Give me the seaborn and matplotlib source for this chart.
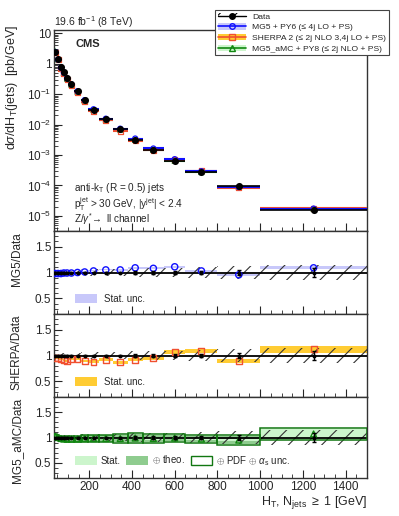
import numpy as np
import matplotlib
matplotlib.use('Agg')
import matplotlib.pyplot as plt
import seaborn as sns
from matplotlib.patches import Patch
from matplotlib.lines import Line2D
from matplotlib.ticker import MultipleLocator, FixedLocator, NullFormatter, FuncFormatter

ht_edges = [35, 48, 60, 75, 87, 105, 128, 162, 195, 245, 310, 380, 450, 550, 650, 800, 1000, 1500]
xsec_data = [2.47, 1.39, 0.755, 0.516, 0.335, 0.212, 0.125, 0.063, 0.031, 0.0149, 0.0070,
             0.0032, 0.00152, 0.00066, 0.000285, 9.3e-5, 1.6e-5]
unc_data_sys = [0.05, 0.05, 0.05, 0.05, 0.05, 0.05, 0.05, 0.06, 0.06, 0.07, 0.07,
                0.08, 0.08, 0.09, 0.10, 0.12, 0.14]
unc_data_stat = [0.005, 0.005, 0.005, 0.005, 0.006, 0.006, 0.007, 0.008, 0.01, 0.012, 0.015,
                 0.02, 0.02, 0.025, 0.03, 0.05, 0.08]

ratio_mg5 = [0.98, 0.98, 0.98, 0.99, 0.99, 0.99, 1.00, 1.01, 1.03, 1.05, 1.05,
             1.09, 1.08, 1.11, 1.03, 0.955, 1.09]
unc_mg5_stat = [0.01, 0.01, 0.01, 0.01, 0.01, 0.01, 0.01, 0.01, 0.01, 0.01, 0.015,
                0.015, 0.02, 0.02, 0.02, 0.025, 0.03]

ratio_sherpa = [0.96, 0.96, 0.94, 0.92, 0.90, 0.93, 0.94, 0.90, 0.88, 0.92, 0.87,
                0.92, 0.95, 1.07, 1.09, 0.90, 1.12]
unc_sherpa_stat = [0.02, 0.02, 0.02, 0.02, 0.02, 0.02, 0.02, 0.02, 0.03, 0.03, 0.03,
                   0.03, 0.03, 0.04, 0.04, 0.04, 0.07]

ratio_amc = [1.02, 1.00, 0.98, 0.97, 0.97, 0.97, 0.97, 0.98, 0.98, 0.98, 0.98,
             0.99, 0.98, 0.99, 0.97, 0.95, 1.07]
unc_amc_stat = [0.01, 0.01, 0.01, 0.01, 0.01, 0.01, 0.01, 0.01, 0.01, 0.01, 0.015,
                0.015, 0.02, 0.02, 0.02, 0.025, 0.09]
unc_amc_theo = [0.03, 0.03, 0.03, 0.03, 0.04, 0.04, 0.05, 0.06, 0.06, 0.06, 0.06,
                0.07, 0.07, 0.06, 0.06, 0.07, 0.10]
unc_amc_pdf = [0.04, 0.04, 0.04, 0.04, 0.05, 0.05, 0.06, 0.07, 0.07, 0.07, 0.08,
               0.09, 0.08, 0.07, 0.07, 0.09, 0.11]

xsec_ticks = [1e-5, 1e-4, 1e-3, 1e-2, 1e-1, 1, 10]
ratio_ticks = [0.5, 1, 1.5]

edges = np.array(ht_edges, dtype=float)
lo, hi = edges[:-1], edges[1:]
centers = 0.5 * (lo + hi)
widths = hi - lo
data = np.array(xsec_data)

sns.set_style('ticks')
plt.rcParams['font.family'] = ['Liberation Sans', 'DejaVu Sans']
plt.rcParams['mathtext.fontset'] = 'custom'
plt.rcParams['mathtext.rm'] = 'Liberation Sans'
plt.rcParams['mathtext.it'] = 'Liberation Sans:italic'
plt.rcParams['hatch.linewidth'] = 0.8
plt.rcParams['axes.linewidth'] = 1.0

W, H = 399, 516
fig = plt.figure(figsize=(W / 100, H / 100), dpi=100)


def box(y0, y1):
    return [54 / W, 1 - y1 / H, (367 - 54) / W, (y1 - y0) / H]


ax = fig.add_axes(box(30, 231))
ax1 = fig.add_axes(box(231, 314))
ax2 = fig.add_axes(box(314, 397))
ax3 = fig.add_axes(box(397, 478))

c_mg5, c_sh, c_amc = '#1010ff', '#f05030', '#118811'
band_mg5, band_sh = '#c8c8fa', '#ffcc33'
amc_stat, amc_theo, amc_pdf = '#ccf5cc', '#8fcc8f', '#117711'

# ---- top panel: cross sections
for rat, col, mk in [(ratio_amc, c_amc, '^'), (ratio_sherpa, c_sh, 's'), (ratio_mg5, c_mg5, 'o')]:
    mc = data * np.array(rat)
    ax.hlines(mc, lo, hi, color=col, lw=1.5, zorder=3)
    sns.scatterplot(x=centers, y=mc, marker=mk, s=13, facecolor='none',
                    edgecolor=col, linewidth=0.9, ax=ax, zorder=4)
ax.hlines(data, lo, hi, color='k', lw=1.2, zorder=5)
sns.scatterplot(x=centers, y=data, marker='o', s=26, color='k', edgecolor='k',
                linewidth=0, ax=ax, zorder=6)
ax.set_yscale('log')
ax.set_ylim(3.2e-6, 12.8)
ax.yaxis.set_major_locator(FixedLocator(xsec_ticks))
minor = [m * t for t in [1e-6] + xsec_ticks for m in range(2, 10) if 3.2e-6 < m * t < 12.8]
ax.yaxis.set_minor_locator(FixedLocator(minor))


def logfmt(v, pos):
    e = int(round(np.log10(v)))
    if e == 0:
        return '1'
    if e == 1:
        return '10'
    return '$10^{%d}$' % e


ax.yaxis.set_major_formatter(FuncFormatter(logfmt))
ax.yaxis.set_minor_formatter(NullFormatter())
ax.set_ylabel('d$\\sigma$/dH$_\\mathrm{T}$(jets)  [pb/GeV]', loc='top', fontsize=9)
ax.yaxis.set_label_coords(-0.11, 1.025)

fig.text(54 / W, 1 - 26 / H, '19.6 fb$^{-1}$ (8 TeV)', fontsize=7.5, ha='left', va='baseline')
ax.text(0.07, 0.93, 'CMS', transform=ax.transAxes, fontsize=8, fontweight='bold', va='center')
ax.text(0.065, 0.212, 'anti-k$_\\mathrm{T}$ (R = 0.5) jets', transform=ax.transAxes, fontsize=7.2, va='center')
ax.text(0.065, 0.135, 'p$_\\mathrm{T}^\\mathrm{jet}$ > 30 GeV, |y$^\\mathrm{jet}$| < 2.4',
        transform=ax.transAxes, fontsize=7.2, va='center')
ax.text(0.065, 0.058, 'Z/$\\gamma^{*}\\!\\rightarrow$ ll channel', transform=ax.transAxes, fontsize=7.2, va='center')

h_data = (Patch(fill=False, hatch='//', edgecolor='k', linewidth=0),
          Line2D([], [], color='k', marker='o', ms=4, lw=1))
h_mg5 = (Patch(facecolor=band_mg5, edgecolor='none'),
         Line2D([], [], color=c_mg5, marker='o', mfc='none', ms=4, lw=1.2))
h_sh = (Patch(facecolor=band_sh, edgecolor='none'),
        Line2D([], [], color=c_sh, marker='s', mfc='none', ms=4, lw=1.2))
h_amc = (Patch(facecolor=amc_stat, edgecolor='none'),
         Line2D([], [], color=c_amc, marker='^', mfc='none', ms=4, lw=1.2))
leg = fig.legend([h_data, h_mg5, h_sh, h_amc],
                 ['Data', 'MG5 + PY6 (≤ 4j LO + PS)',
                  'SHERPA 2 (≤ 2j NLO 3,4j LO + PS)',
                  'MG5_aMC + PY8 (≤ 2j NLO + PS)'],
                 loc='upper left', bbox_to_anchor=(215 / W, 1 - 10 / H), fontsize=6.1,
                 frameon=True, fancybox=False, edgecolor='#444444', framealpha=1,
                 handlelength=3.3, handleheight=0.8, borderpad=0.3, labelspacing=0.3,
                 handletextpad=0.8, borderaxespad=0)
leg.get_frame().set_linewidth(0.8)

# ---- ratio panels
def ratio_base(a):
    a.bar(centers, 2 * np.array(unc_data_sys), bottom=1 - np.array(unc_data_sys), width=widths,
          fill=False, hatch='//', edgecolor='#333333', linewidth=0, zorder=2)
    a.axhline(1, color='k', lw=1.3, zorder=3)
    a.errorbar(centers, np.ones_like(centers), yerr=unc_data_stat, fmt='o', ms=1.8,
               color='k', elinewidth=1, capsize=1.5, zorder=6)
    a.set_ylim(0.2, 1.8)
    a.yaxis.set_major_locator(FixedLocator(ratio_ticks))
    a.yaxis.set_major_formatter(FuncFormatter(lambda v, p: '%g' % v))
    a.yaxis.set_minor_locator(MultipleLocator(0.1))


ratio_base(ax1)
ax1.bar(centers, 2 * np.array(unc_mg5_stat), bottom=np.array(ratio_mg5) - np.array(unc_mg5_stat),
        width=widths, color=band_mg5, linewidth=0, zorder=1)
sns.scatterplot(x=centers, y=ratio_mg5, marker='o', s=20, facecolor='none', edgecolor=c_mg5,
                linewidth=1.0, ax=ax1, zorder=5)
ax1.set_ylabel('MG5/Data', loc='top', fontsize=8.5)
ax1.legend([Patch(facecolor=band_mg5, edgecolor='none')], ['Stat. unc.'], loc='lower left',
           bbox_to_anchor=(0.04, 0.02), fontsize=7, frameon=False, handlelength=2.2,
           handleheight=1.1)

ratio_base(ax2)
ax2.bar(centers, 2 * np.array(unc_sherpa_stat), bottom=np.array(ratio_sherpa) - np.array(unc_sherpa_stat),
        width=widths, color=band_sh, linewidth=0, zorder=1)
sns.scatterplot(x=centers, y=ratio_sherpa, marker='s', s=18, facecolor='none', edgecolor=c_sh,
                linewidth=1.0, ax=ax2, zorder=5)
ax2.set_ylabel('SHERPA/Data', loc='top', fontsize=8.5)
ax2.legend([Patch(facecolor=band_sh, edgecolor='none')], ['Stat. unc.'], loc='lower left',
           bbox_to_anchor=(0.04, 0.02), fontsize=7, frameon=False, handlelength=2.2,
           handleheight=1.1)

ra = np.array(ratio_amc)
ax3.bar(centers, 2 * np.array(unc_amc_theo), bottom=ra - np.array(unc_amc_theo), width=widths,
        color=amc_theo, linewidth=0, zorder=1)
ax3.bar(centers, 2 * np.array(unc_amc_stat), bottom=ra - np.array(unc_amc_stat), width=widths,
        color=amc_stat, linewidth=0, zorder=1)
ax3.bar(centers, 2 * np.array(unc_amc_pdf), bottom=ra - np.array(unc_amc_pdf), width=widths,
        fill=False, edgecolor=amc_pdf, linewidth=1.1, zorder=4)
ratio_base(ax3)
sns.scatterplot(x=centers, y=ratio_amc, marker='^', s=18, facecolor='none', edgecolor=c_amc,
                linewidth=1.0, ax=ax3, zorder=5)
ax3.set_ylabel('MG5_aMC/Data', loc='top', fontsize=8.5)
ax3.legend([Patch(facecolor=amc_stat, edgecolor='none'), Patch(facecolor=amc_theo, edgecolor='none'),
            Patch(facecolor='white', edgecolor=amc_pdf, linewidth=1.0)],
           ['Stat.', '$\\oplus$ theo.', '$\\oplus$ PDF $\\oplus$ $\\alpha_\\mathrm{s}$ unc.'],
           loc='lower left', bbox_to_anchor=(0.04, 0.02), fontsize=7, frameon=False, ncol=3,
           handlelength=2.2, handleheight=1.1, columnspacing=0.6, handletextpad=0.4)
ax3.set_xlabel('H$_\\mathrm{T}$, N$_\\mathrm{jets}$ $\\geq$ 1 [GeV]', loc='right', fontsize=9, labelpad=1)

for a in (ax, ax1, ax2, ax3):
    a.set_xlim(35, 1500)
    a.xaxis.set_major_locator(FixedLocator([200, 400, 600, 800, 1000, 1200, 1400]))
    a.xaxis.set_minor_locator(FixedLocator([v for v in range(50, 1500, 50) if v % 200]))
    a.tick_params(which='both', direction='in', top=False, right=False, labelsize=8.5, pad=2)
    a.tick_params(which='major', length=6, width=0.8)
    a.tick_params(which='minor', length=3, width=0.6)
    for s in a.spines.values():
        s.set_color('#333333')
    if a is not ax3:
        a.tick_params(labelbottom=False)
    if a is not ax:
        a.yaxis.set_label_coords(-0.10, 0.99)

fig.savefig('out.png', dpi=100)
